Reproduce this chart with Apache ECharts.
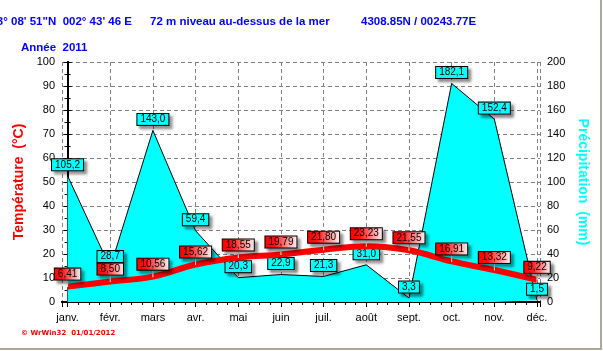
<!DOCTYPE html>
<html>
<head>
<meta charset="utf-8">
<script src="https://cdn.jsdelivr.net/npm/echarts@6/dist/echarts.min.js"></script>
<style>
  html, body { margin: 0; padding: 0; background: #fff; }
  #chart { width: 603px; height: 351px; }
</style>
</head>
<body>
<div id="chart"></div>
<script>
const months = ["janv.", "févr.", "mars", "avr.", "mai", "juin", "juil.", "août", "sept.", "oct.", "nov.", "déc."];
const temperature = [6.41, 8.50, 10.56, 15.62, 18.55, 19.79, 21.80, 23.23, 21.55, 16.91, 13.32, 9.22];
const precipitation = [105.2, 28.7, 143.0, 59.4, 20.3, 22.9, 21.3, 31.0, 3.3, 182.1, 152.4, 1.5];

const FONT = "'Liberation Sans', Arial, sans-serif";

/* format français : virgule décimale */
const fr = (v, d) => v.toFixed(d).replace(".", ",");

const chartDom = document.getElementById("chart");
const myChart = echarts.init(chartDom);

const boxShadow = {
  shadowColor: "rgba(0,0,0,0.45)",
  shadowBlur: 3,
  shadowOffsetX: 3,
  shadowOffsetY: 3,
};

const option = {
  animation: false,
  backgroundColor: "#fff",
  textStyle: { fontFamily: FONT },
  grid: { left: 62, right: 63, top: 62, bottom: 49 },
  graphic: [
    {
      type: "text", right: 603 - 132, top: 16,
      style: { text: "43° 08' 51\"N  002° 43' 46 E", fill: "#0000ff", font: "bold 11.5px " + FONT, textAlign: "right" },
    },
    {
      type: "text", left: 150, top: 16,
      style: { text: "72 m niveau au-dessus de la mer", fill: "#0000ff", font: "bold 11.5px " + FONT },
    },
    {
      type: "text", left: 361, top: 16,
      style: { text: "4308.85N / 00243.77E", fill: "#0000ff", font: "bold 11.5px " + FONT },
    },
    {
      type: "text", left: 21, top: 42,
      style: { text: "Année  2011", fill: "#0000ff", font: "bold 11.5px " + FONT },
    },
    {
      type: "text", left: 21, top: 330,
      style: { text: "© WrWin32  01/01/2012", fill: "#ff0000", font: "bold 7px 'DejaVu Sans', sans-serif" },
    },
    { type: "rect", shape: { x: 600, y: 0, width: 2, height: 350 }, style: { fill: "#aca899" } },
    { type: "rect", shape: { x: 0, y: 348, width: 602, height: 2 }, style: { fill: "#aca899" } },
  ],
  xAxis: [
    {
      type: "value",
      min: -0.13,
      max: 11.07,
      splitNumber: 11,
      axisLine: { show: true, lineStyle: { color: "#000", width: 2 } },
      axisTick: { show: true, length: 5, lineStyle: { color: "#000" } },
      minorTick: { show: true, splitNumber: 4, length: 3, lineStyle: { color: "#000" } },
      splitLine: { show: true, lineStyle: { color: "#808080", type: [4, 3] } },
      axisLabel: {
        color: "#000",
        fontSize: 11,
        margin: 10,
        showMinLabel: false,
        showMaxLabel: false,
        formatter: (v) => {
          const i = Math.round(v);
          return Math.abs(v - i) < 1e-6 && months[i] ? months[i] : "";
        },
      },
    },
    {
      type: "value",
      position: "top",
      min: -0.13,
      max: 11.07,
      axisLine: { show: true, lineStyle: { color: "#000", width: 2 } },
      axisTick: { show: false },
      axisLabel: { show: false },
      splitLine: { show: false },
    },
  ],
  yAxis: [
    {
      type: "value",
      min: 0,
      max: 100,
      interval: 10,
      name: "Température  (°C)",
      nameLocation: "middle",
      nameGap: 21,
      nameTextStyle: { color: "#ff0000", fontWeight: "bold", fontSize: 14 },
      axisLine: { show: true, lineStyle: { color: "#000", width: 2 } },
      axisTick: { show: true, length: 4, lineStyle: { color: "#000" } },
      minorTick: { show: true, splitNumber: 2, length: 3, lineStyle: { color: "#000" } },
      splitLine: { show: true, lineStyle: { color: "#808080", type: [4, 3] } },
      axisLabel: { color: "#000", fontSize: 11, margin: 7 },
    },
    {
      type: "value",
      position: "right",
      min: 0,
      max: 200,
      interval: 20,
      name: "Précipitation  (mm)",
      nameLocation: "middle",
      nameGap: 23,
      nameRotate: -90,
      nameTextStyle: { color: "#00ffff", fontWeight: "bold", fontSize: 14 },
      axisLine: { show: true, lineStyle: { color: "#000", width: 2 } },
      axisTick: { show: true, length: 4, lineStyle: { color: "#000" } },
      minorTick: { show: true, splitNumber: 2, length: 3, lineStyle: { color: "#000" } },
      splitLine: { show: false },
      axisLabel: { color: "#000", fontSize: 11, margin: 7 },
    },
  ],
  series: [
    {
      name: "Précipitation",
      type: "line",
      yAxisIndex: 1,
      z: 2,
      data: precipitation.map((v, i) => [i, v]),
      symbol: "rect",
      symbolSize: [1, 1],
      itemStyle: { color: "rgba(0,0,0,0)" },
      lineStyle: { color: "#000", width: 1 },
      areaStyle: { color: "#00ffff", opacity: 1 },
      label: {
        show: true,
        position: "inside",
        offset: [0, -11],
        formatter: (p) => fr(p.value[1], 1),
        color: "#000",
        fontSize: 10,
        fontFamily: FONT,
        backgroundColor: "#00ffff",
        borderColor: "#000",
        borderWidth: 1,
        padding: [1, 3, 0, 3],
        ...boxShadow,
      },
    },
    {
      name: "Température",
      type: "line",
      yAxisIndex: 0,
      z: 3,
      smooth: 0.4,
      data: temperature.map((v, i) => [i, v]),
      symbol: "rect",
      symbolSize: [1, 7],
      symbolOffset: [0, -3],
      itemStyle: { color: "#fff" },
      lineStyle: { color: "#ff0000", width: 6 },
      label: {
        show: true,
        position: "inside",
        offset: [0, -9.5],
        formatter: (p) => fr(p.value[1], 2),
        color: "#000",
        fontSize: 10,
        fontFamily: FONT,
        backgroundColor: new echarts.graphic.LinearGradient(0, 0, 1, 0, [
          { offset: 0, color: "#ff0000" },
          { offset: 0.3, color: "#ff1010" },
          { offset: 1, color: "#fff4f4" },
        ]),
        borderColor: "#000",
        borderWidth: 1,
        padding: [1, 3, 0, 3],
        ...boxShadow,
      },
    },
  ],
};

option && myChart.setOption(option);
</script>
</body>
</html>
